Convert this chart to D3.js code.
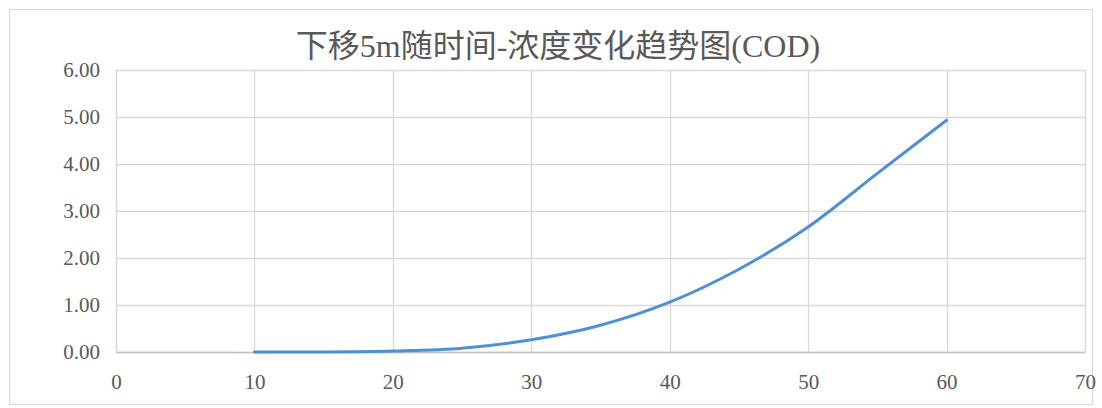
<!DOCTYPE html>
<html>
<head>
<meta charset="utf-8">
<script src="https://cdn.jsdelivr.net/npm/d3@7"></script>
<style>
  html, body { margin: 0; padding: 0; background: #ffffff; }
  svg { display: block; }
  text { font-family: "Liberation Serif", "Noto Sans CJK SC", serif; fill: #595959; }
</style>
</head>
<body>
<svg id="chart" width="1102" height="408"></svg>
<script>
// Time (min) and COD concentration, 5 m downstream
const times = [10, 15, 20, 25, 30, 35, 40, 45, 50, 55, 60];
const codValues = [0.00, 0.00, 0.02, 0.08, 0.26, 0.57, 1.06, 1.76, 2.66, 3.80, 4.93];
const xTicks = [0, 10, 20, 30, 40, 50, 60, 70];
const yTicks = [0, 1, 2, 3, 4, 5, 6];
const titleText = "下移5m随时间-浓度变化趋势图(COD)";

const svg = d3.select("#chart");
const plot = { left: 116, right: 1085, top: 70, bottom: 352 };

// chart frame
svg.append("rect")
  .attr("x", 9.5).attr("y", 9.5)
  .attr("width", 1083).attr("height", 395)
  .attr("fill", "#ffffff")
  .attr("stroke", "#d9d9d9").attr("stroke-width", 1);

const x = d3.scaleLinear().domain([0, 70]).range([plot.left, plot.right]);
const y = d3.scaleLinear().domain([0, 6]).range([plot.bottom, plot.top]);

// gridlines
const grid = svg.append("g").attr("class", "grid");
grid.selectAll("line.h").data(yTicks).join("line")
  .attr("class", "h")
  .attr("x1", plot.left).attr("x2", plot.right)
  .attr("y1", d => Math.round(y(d)) + 0.5).attr("y2", d => Math.round(y(d)) + 0.5)
  .attr("stroke", "#d9d9d9").attr("stroke-width", 1.3);
grid.selectAll("line.v").data(xTicks).join("line")
  .attr("class", "v")
  .attr("y1", plot.top).attr("y2", plot.bottom)
  .attr("x1", d => Math.round(x(d)) + 0.5).attr("x2", d => Math.round(x(d)) + 0.5)
  .attr("stroke", "#d9d9d9").attr("stroke-width", 1.3);

// axes
const xAxis = svg.append("g")
  .attr("transform", `translate(0,${plot.bottom})`)
  .call(d3.axisBottom(x).tickValues(xTicks).tickSize(0).tickPadding(22).tickFormat(d3.format("d")));
xAxis.select(".domain").attr("stroke", "#bfbfbf").attr("stroke-width", 1.5);
xAxis.selectAll("text").attr("font-size", 21).attr("fill", "#595959")
  .style("font-family", "'Liberation Serif', serif");

const yAxis = svg.append("g")
  .attr("transform", `translate(${plot.left},0)`)
  .call(d3.axisLeft(y).tickValues(yTicks).tickSize(0).tickPadding(16).tickFormat(d3.format(".2f")));
yAxis.select(".domain").attr("stroke", "#d9d9d9").attr("stroke-width", 1.3);
yAxis.selectAll("text").attr("font-size", 21).attr("fill", "#595959")
  .style("font-family", "'Liberation Serif', serif");

// COD curve (smoothed)
const line = d3.line()
  .x((d, i) => x(times[i]))
  .y(d => y(d))
  .curve(d3.curveCatmullRom.alpha(0.5));

svg.append("path")
  .datum(codValues)
  .attr("d", line)
  .attr("fill", "none")
  .attr("stroke", "#4f90d4")
  .attr("stroke-width", 3)
  .attr("stroke-linecap", "round");

// title
svg.append("text")
  .attr("x", 558).attr("y", 57)
  .attr("text-anchor", "middle")
  .attr("font-size", 32)
  .attr("fill", "#595959")
  .text(titleText);
</script>
</body>
</html>
